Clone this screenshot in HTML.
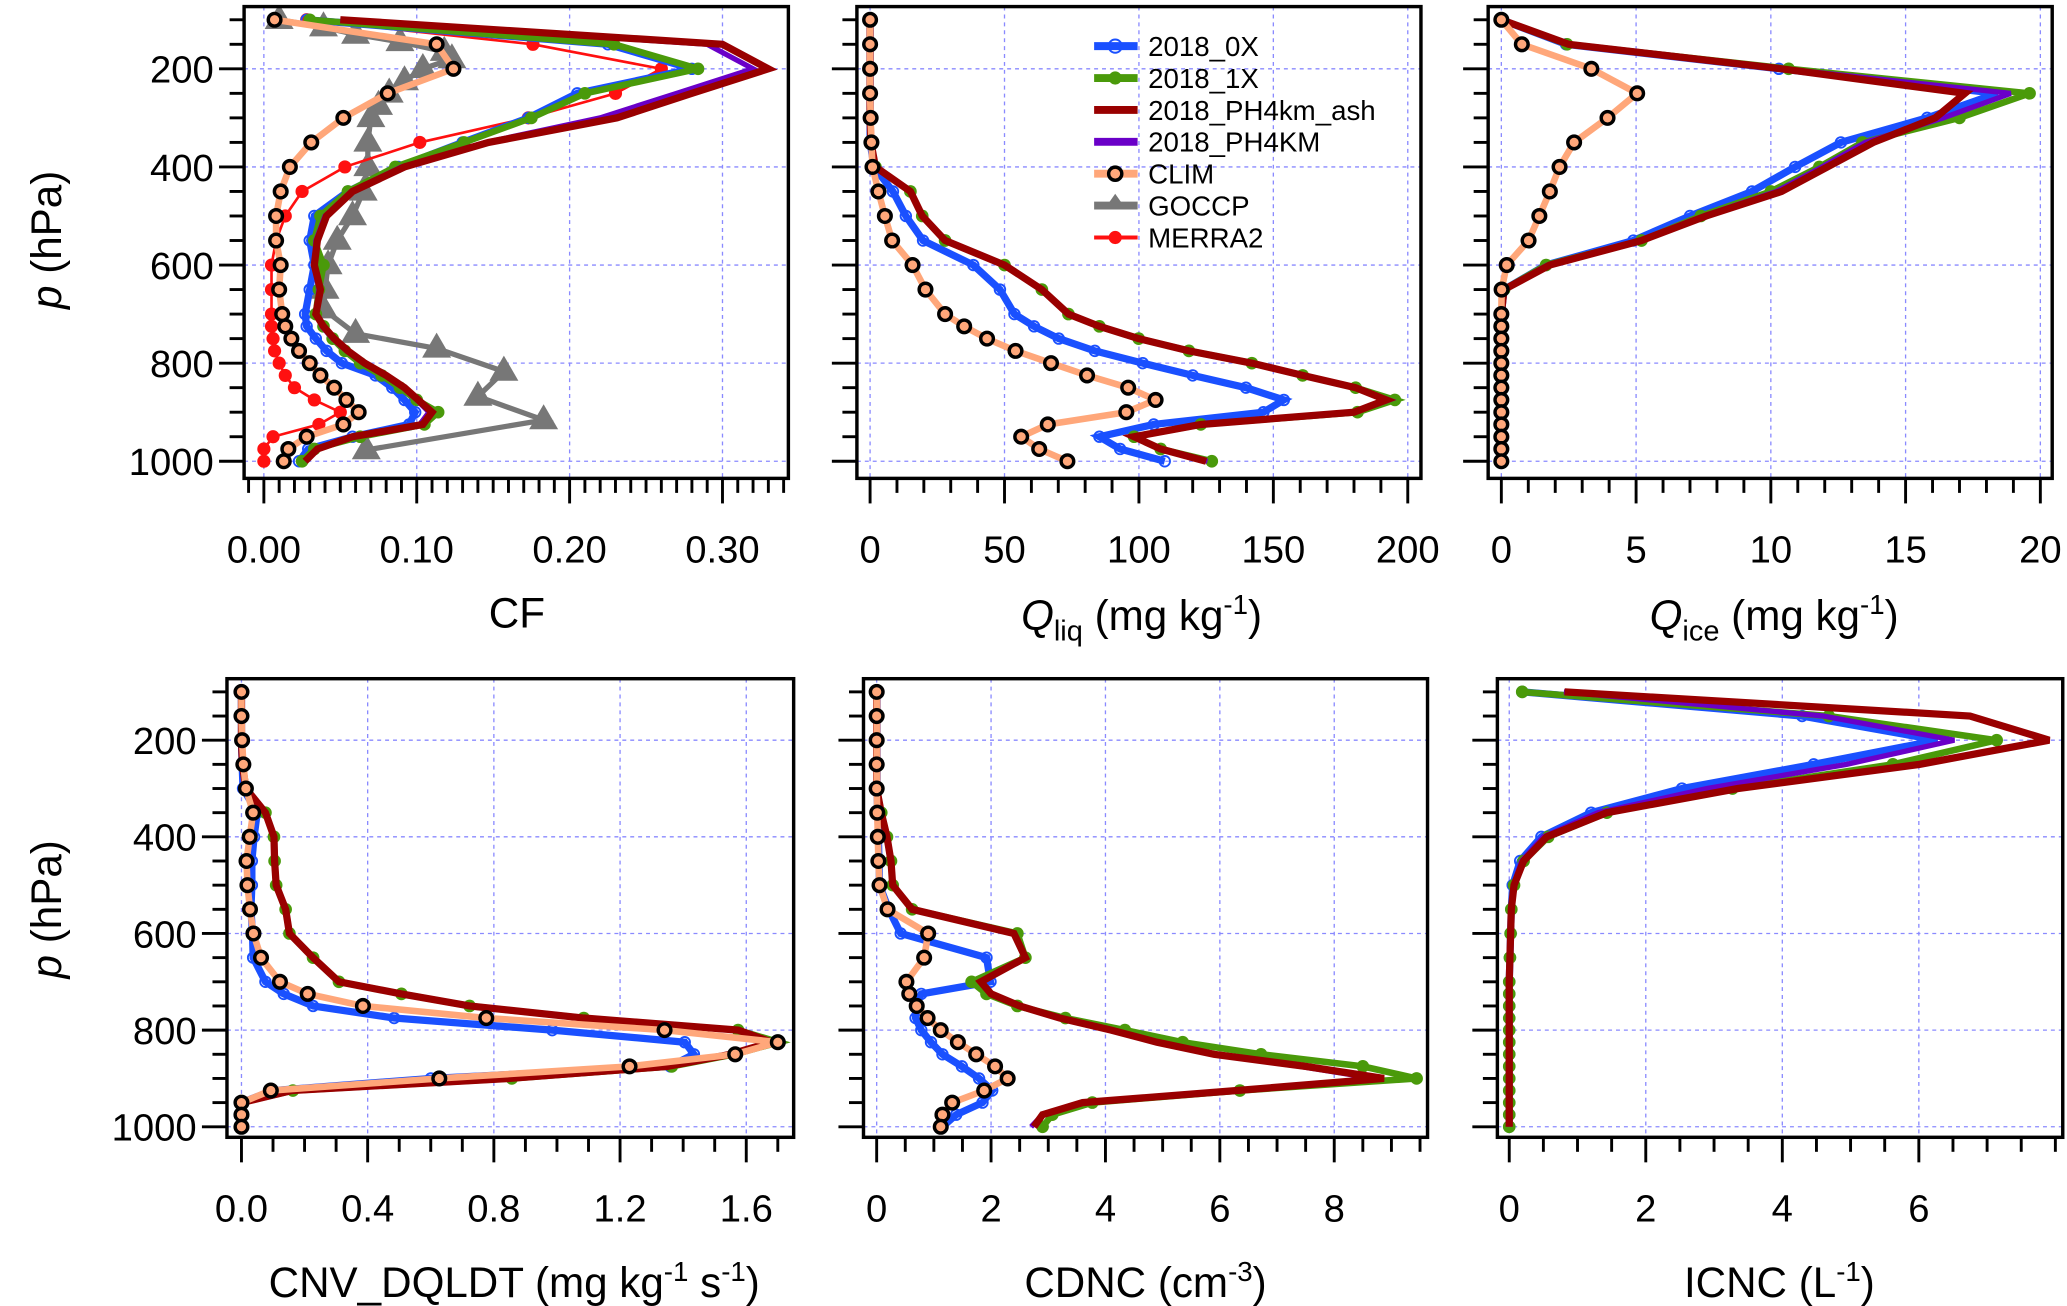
<!DOCTYPE html>
<html><head><meta charset="utf-8"><style>
html,body{margin:0;padding:0;background:#fff}
svg{display:block}
text{font-family:"Liberation Sans",Arial,sans-serif;fill:#000}
</style></head><body>
<svg id="fig" width="2067" height="1306" viewBox="0 0 1568 991" xmlns="http://www.w3.org/2000/svg"></svg>
<script>
// ---- data ----
const levels = [100,150,200,250,300,350,400,450,500,550,600,650,700,725,750,775,800,825,850,875,900,925,950,975,1000];
// Panel 1: CF
const cf0X   = [0.028,0.225,0.28,0.205,0.173,0.13,0.088,0.055,0.033,0.03,0.033,0.03,0.027,0.028,0.034,0.041,0.051,0.073,0.084,0.092,0.099,0.095,0.058,0.029,0.023];
const cf1X   = [0.03,0.229,0.284,0.21,0.175,0.131,0.086,0.055,0.037,0.033,0.039,0.036,0.034,0.039,0.045,0.053,0.063,0.077,0.089,0.1,0.114,0.105,0.063,0.033,0.025];
const cfAsh  = [0.05,0.30,0.33,0.28,0.231,0.147,0.092,0.058,0.041,0.035,0.033,0.037,0.034,0.039,0.046,0.055,0.066,0.08,0.092,0.101,0.11,0.104,0.058,0.035,0.027];
const cfPH   = [0.05,0.29,0.32,0.27,0.22,0.145,0.09,0.057,0.04,0.034,0.033,0.036,0.034,0.038,0.045,0.054,0.065,0.079,0.091,0.1,0.108,0.102,0.058,0.035,0.027];
const cfClim = [0.007,0.113,0.124,0.081,0.052,0.031,0.017,0.011,0.008,0.008,0.011,0.010,0.012,0.014,0.018,0.023,0.030,0.037,0.046,0.054,0.062,0.052,0.028,0.016,0.013];
const cfMerra= [0.028,0.176,0.26,0.23,0.173,0.102,0.053,0.025,0.014,0.008,0.005,0.005,0.005,0.005,0.006,0.007,0.01,0.014,0.02,0.033,0.05,0.036,0.006,0.0,0.0];
const goccpP = [100,115,130,145,165,180,200,225,250,275,300,350,400,450,500,550,600,650,690,740,770,817,868,916,977];
const goccpCF= [0.010,0.039,0.060,0.089,0.118,0.123,0.104,0.092,0.082,0.075,0.070,0.068,0.068,0.065,0.058,0.048,0.042,0.040,0.039,0.060,0.113,0.157,0.140,0.183,0.067];
// Panel 2: Qliq
const ql0X   = [0,0,0,0,0,0,1.5,8.5,13.3,19.7,38.4,48.3,53.7,61,70.2,83.6,101.4,120,139.8,153.9,146.3,105.5,85.3,93,109.6];
const ql1X   = [0,0,0,0,0,0.3,2,15,19.4,27.9,50,63.9,73.8,85.3,99.9,118.6,142,160.9,180.6,195.2,181.3,123,98.2,108.1,127.1];
const qlAsh  = [0,0,0,0,0,0.3,2,15,19.4,27.9,50,63.9,73.8,85.3,99.9,118.6,142,160.9,180.6,192,180,123,98.2,108.1,125];
const qlPH   = [0,0,0,0,0,0.3,2,15,19.4,27.9,50,63.9,73.8,85.3,99.9,118.6,142,160.9,180.6,193,180.5,123,98.2,108.1,125.5];
const qlClim = [0,0,0,0,0.2,0.5,0.9,3.1,5.5,8.2,15.8,20.6,27.9,35,43.5,54.1,67.3,80.7,96,106.2,95.3,66.1,56.2,62.9,73.4];
// Panel 3: Qice
const qi0X   = [0,2.4,10.3,18.4,15.8,12.6,10.9,9.3,7.0,4.9,1.66,0.1,0,0,0,0,0,0,0,0,0,0,0,0,0];
const qi1X   = [0,2.44,10.66,19.6,17.0,13.4,11.8,10.0,7.4,5.2,1.66,0.1,0,0,0,0,0,0,0,0,0,0,0,0,0];
const qiAsh  = [0,2.5,10.4,17.2,16.1,13.8,12.1,10.4,7.6,5.2,1.8,0.1,0,0,0,0,0,0,0,0,0,0,0,0,0];
const qiPH   = [0,2.45,10.5,18.9,16.4,13.5,11.9,10.2,7.5,5.1,1.7,0.1,0,0,0,0,0,0,0,0,0,0,0,0,0];
const qiClim = [0,0.76,3.34,5.04,3.94,2.7,2.16,1.8,1.41,1.01,0.2,0.01,0,0,0,0,0,0,0,0,0,0,0,0,0];
// Panel 4: CNV_DQLDT
const cn0X   = [0,0,0,0.002,0.005,0.05,0.04,0.033,0.033,0.03,0.035,0.037,0.076,0.134,0.227,0.484,0.985,1.405,1.434,1.359,0.6,0.1,0,0,0];
const cn1X   = [0,0,0,0.003,0.014,0.076,0.103,0.105,0.11,0.14,0.152,0.227,0.309,0.507,0.723,1.085,1.574,1.703,1.563,1.364,0.857,0.163,0,0,0];
const cnAsh  = [0,0,0,0.003,0.014,0.076,0.103,0.105,0.11,0.14,0.152,0.227,0.309,0.507,0.723,1.085,1.574,1.68,1.55,1.35,0.85,0.16,0,0,0];
const cnPH   = [0,0,0,0.003,0.014,0.076,0.103,0.105,0.11,0.14,0.152,0.227,0.309,0.507,0.723,1.085,1.574,1.69,1.55,1.35,0.85,0.16,0,0,0];
const cnClim = [0,0,0.002,0.006,0.014,0.037,0.026,0.016,0.019,0.027,0.038,0.062,0.122,0.21,0.385,0.776,1.341,1.7,1.565,1.23,0.627,0.093,0,0,0];
// Panel 5: CDNC
const cd0X   = [0,0,0,0,0,0.02,0.03,0.04,0.05,0.21,0.42,1.92,1.99,0.78,0.68,0.68,0.78,0.95,1.15,1.49,1.79,2.02,1.85,1.39,1.15];
const cd1X   = [0,0,0,0,0,0.08,0.18,0.25,0.28,0.62,2.46,2.6,1.66,1.92,2.46,3.3,4.34,5.35,6.72,8.5,9.44,6.35,3.77,3.07,2.9];
const cdAsh  = [0,0,0,0,0,0.08,0.18,0.25,0.28,0.62,2.4,2.6,1.82,2.0,2.5,3.2,4.1,4.9,5.9,7.5,8.87,6.3,3.6,2.9,2.75];
const cdPH   = [0,0,0,0,0,0.08,0.18,0.25,0.28,0.62,2.4,2.6,1.82,2.0,2.5,3.2,4.1,4.9,5.85,7.4,8.7,6.3,3.6,2.9,2.7];
const cdClim = [0,0,0,0,0,0.01,0.02,0.03,0.05,0.19,0.9,0.83,0.52,0.57,0.70,0.89,1.12,1.42,1.74,2.07,2.29,1.88,1.32,1.15,1.12];
// Panel 6: ICNC
const ic0X   = [0.19,4.29,6.27,4.46,2.53,1.2,0.47,0.16,0.05,0.03,0.02,0.01,0,0,0,0,0,0,0,0,0,0,0,0,0];
const ic1X   = [0.19,4.68,7.14,5.62,3.27,1.43,0.57,0.21,0.07,0.03,0.02,0.01,0,0,0,0,0,0,0,0,0,0,0,0,0];
const icAsh  = [0.81,6.75,7.91,6.01,3.35,1.43,0.55,0.21,0.07,0.03,0.02,0.01,0,0,0,0,0,0,0,0,0,0,0,0,0];
const icPH   = [0.8,4.6,6.52,4.94,2.9,1.3,0.5,0.18,0.06,0.03,0.02,0.01,0,0,0,0,0,0,0,0,0,0,0,0,0];
const legendLabels = ["2018_0X","2018_1X","2018_PH4km_ash","2018_PH4KM","CLIM","GOCCP","MERRA2"];

// ---- drawing ----
const NS="http://www.w3.org/2000/svg";
const svg=document.getElementById('fig');
function mk(tag,attrs,parent){const e=document.createElementNS(NS,tag);for(const k in attrs)e.setAttribute(k,attrs[k]);(parent||svg).appendChild(e);return e;}
const C={blue:"#1a50ff",green:"#4a9a0a",ash:"#990000",ph:"#6a00c8",clim:"#ffa77a",goccp:"#777777",merra:"#ff1010",grid:"#8a8aff"};

function makePanel(o){
  const g=mk('g',{});
  
  
  const X=v=>o.x0+v*o.kx;
  const Y=p=>o.yA+(p-100)*(o.yB-o.yA)/900;
  const grid=mk('g',{},g);
  
  
  o.major.forEach(v=>{mk('line',{x1:X(v),x2:X(v),y1:o.top,y2:o.bot,stroke:C.grid,'stroke-width':1,'stroke-dasharray':'3,3'},grid);});
  [200,400,600,800,1000].forEach(p=>{mk('line',{x1:o.left,x2:o.right,y1:Y(p),y2:Y(p),stroke:C.grid,'stroke-width':1,'stroke-dasharray':'3,3'},grid);});
  const yt=mk('g',{},g);
  
  
  for(let p=100;p<=1000;p+=50){const maj=(p%200===0);
    mk('line',{x1:o.left-(maj?19:11),x2:o.left,y1:Y(p),y2:Y(p),stroke:'#000','stroke-width':2.2},yt);
    if(maj&&o.ylabels){const t=mk('text',{x:o.left-23,y:Y(p)+10.5,'font-size':29,'text-anchor':'end'},yt);t.textContent=String(p);}
  }
  const xt=mk('g',{},g);
  
  
  const nMinor=Math.round((o.xmax-o.xmin)/o.minor);
  for(let i=0;i<=nMinor;i++){const v=o.xmin+i*o.minor;const px=X(v);if(px<o.left-0.5||px>o.right+0.5)continue;
    const maj=o.major.some(m=>Math.abs(m-v)<1e-6);
    mk('line',{x1:px,x2:px,y1:o.bot,y2:o.bot+(maj?19:11),stroke:'#000','stroke-width':2.2},xt);}
  o.major.forEach((v,i)=>{const t=mk('text',{x:X(v),y:o.bot+64,'font-size':29,'text-anchor':'middle'},xt);t.textContent=o.tickLabels[i];});
  const clip='clip-'+o.name;
  const cp=mk('clipPath',{id:clip},g);mk('rect',{x:o.left,y:o.top,width:o.right-o.left,height:o.bot-o.top},cp);
  const sg=mk('g',{'clip-path':'url(#'+clip+')'},g);
  o.series.forEach(s=>{
    const ps=s.p||levels;
    const sgr=mk('g',{},sg);
    
    
    const pts=s.v.map((v,i)=>X(v).toFixed(2)+','+Y(ps[i]).toFixed(2)).join(' ');
    mk('polyline',{points:pts,fill:'none',stroke:s.color,'stroke-width':s.w,'stroke-linejoin':'miter'},sgr);
    if(s.marker){s.v.forEach((v,i)=>{const cx=X(v),cy=Y(ps[i]);
      let m;
      if(s.marker==='open')m=mk('circle',{cx,cy,r:4,fill:'none',stroke:s.color,'stroke-width':1.4},sgr);
      else if(s.marker==='dot')m=mk('circle',{cx,cy,r:s.r||5,fill:s.color},sgr);
      else if(s.marker==='clim')m=mk('circle',{cx,cy,r:4.8,fill:C.clim,stroke:'#000','stroke-width':2.6},sgr);
      else if(s.marker==='tri')m=mk('polygon',{points:`${cx},${cy-12} ${cx-11},${cy+7} ${cx+11},${cy+7}`,fill:s.color},sgr);
      
      
    });}
  });
  const fr=mk('rect',{x:o.left,y:o.top,width:o.right-o.left,height:o.bot-o.top,fill:'none',stroke:'#000','stroke-width':2.6},g);
  
  
  return g;
}
const models=(a,b,c,d)=>[
  {key:'2018-0x',v:a,color:C.blue,w:5.5,marker:'open'},
  {key:'2018-1x',v:b,color:C.green,w:5,marker:'dot',r:4.8},
  {key:'2018-ph4km',v:d,color:C.ph,w:4},
  {key:'2018-ph4kmash',v:c,color:C.ash,w:5.5}];
const topRow={top:5,bot:363,yA:15,yB:350};
const bottomRow={top:515,bot:863,yA:525,yB:855};

makePanel(Object.assign({name:'panel-cf',left:185,right:598,x0:200,kx:1160,xmin:-0.01,xmax:0.34,minor:0.01,major:[0,0.1,0.2,0.3],tickLabels:['0.00','0.10','0.20','0.30'],ylabels:true,
  series:[{key:'goccp',p:goccpP,v:goccpCF,color:C.goccp,w:4,marker:'tri'},{key:'merra2',v:cfMerra,color:C.merra,w:2,marker:'dot',r:5}]
    .concat(models(cf0X,cf1X,cfAsh,cfPH)).concat([{key:'clim',v:cfClim,color:C.clim,w:5,marker:'clim'}])},topRow));
makePanel(Object.assign({name:'panel-qliq',left:650,right:1078,x0:660,kx:2.04,xmin:0,xmax:205,minor:10,major:[0,50,100,150,200],tickLabels:['0','50','100','150','200'],
  series:models(ql0X,ql1X,qlAsh,qlPH).concat([{key:'clim',v:qlClim,color:C.clim,w:5,marker:'clim'}])},topRow));
makePanel(Object.assign({name:'panel-qice',left:1129,right:1557,x0:1139,kx:20.45,xmin:0,xmax:20,minor:1,major:[0,5,10,15,20],tickLabels:['0','5','10','15','20'],
  series:models(qi0X,qi1X,qiAsh,qiPH).concat([{key:'clim',v:qiClim,color:C.clim,w:5,marker:'clim'}])},topRow));
makePanel(Object.assign({name:'panel-cnv-dqldt',left:172,right:602,x0:183,kx:239.4,xmin:0,xmax:1.7,minor:0.1,major:[0,0.4,0.8,1.2,1.6],tickLabels:['0.0','0.4','0.8','1.2','1.6'],ylabels:true,
  series:models(cn0X,cn1X,cnAsh,cnPH).concat([{key:'clim',v:cnClim,color:C.clim,w:5,marker:'clim'}])},bottomRow));
makePanel(Object.assign({name:'panel-cdnc',left:655,right:1083,x0:665,kx:43.4,xmin:0,xmax:9.5,minor:0.5,major:[0,2,4,6,8],tickLabels:['0','2','4','6','8'],
  series:models(cd0X,cd1X,cdAsh,cdPH).concat([{key:'clim',v:cdClim,color:C.clim,w:5,marker:'clim'}])},bottomRow));
makePanel(Object.assign({name:'panel-icnc',left:1136,right:1565,x0:1145,kx:51.8,xmin:0,xmax:8,minor:0.5,major:[0,2,4,6],tickLabels:['0','2','4','6'],
  series:models(ic0X,ic1X,icAsh,icPH)},bottomRow));

// legend
const lg=mk('g',{});


const lstyle=[{c:C.blue,m:'open'},{c:C.green,m:'dot'},{c:C.ash},{c:C.ph},{c:C.clim,m:'clim'},{c:C.goccp,m:'tri'},{c:C.merra,m:'dot',w:3}];
legendLabels.forEach((lab,i)=>{
  const y=35+i*24.2;
  const e=mk('g',{},lg);
  
  
  const st=lstyle[i];
  mk('line',{x1:830,x2:863,y1:y,y2:y,stroke:st.c,'stroke-width':st.w||6},e);
  if(st.m==='open')mk('circle',{cx:846,cy:y,r:5,fill:'none',stroke:st.c,'stroke-width':1.5},e);
  if(st.m==='dot')mk('circle',{cx:846,cy:y,r:5,fill:st.c},e);
  if(st.m==='clim')mk('circle',{cx:846,cy:y,r:5,fill:C.clim,stroke:'#000','stroke-width':2.6},e);
  if(st.m==='tri')mk('polygon',{points:`846,${y-9} 839,${y+1} 853,${y+1}`,fill:st.c},e);
  const t=mk('text',{x:871,y:y+7.5,'font-size':21},e);t.textContent=lab;
});
</script>
<svg style="position:absolute;left:0;top:0" width="2067" height="1306" viewBox="0 0 1568 991" xmlns="http://www.w3.org/2000/svg">
  <g font-family="Liberation Sans, Arial, sans-serif" font-size="32">
    <text transform="translate(46,182) rotate(-90)" text-anchor="middle"><tspan font-style="italic">p</tspan> (hPa)</text>
    <text transform="translate(46,690) rotate(-90)" text-anchor="middle"><tspan font-style="italic">p</tspan> (hPa)</text>
    <text x="392" y="476" text-anchor="middle">CF</text>
    <text x="866" y="478" text-anchor="middle"><tspan font-style="italic">Q</tspan><tspan font-size="22" dy="8">liq</tspan><tspan dy="-8"> (mg kg</tspan><tspan font-size="21" dy="-12">-1</tspan><tspan dy="12">)</tspan></text>
    <text x="1346" y="478" text-anchor="middle"><tspan font-style="italic">Q</tspan><tspan font-size="22" dy="8">ice</tspan><tspan dy="-8"> (mg kg</tspan><tspan font-size="21" dy="-12">-1</tspan><tspan dy="12">)</tspan></text>
    <text x="390" y="984" text-anchor="middle">CNV_DQLDT (mg kg<tspan font-size="21" dy="-12">-1</tspan><tspan dy="12"> s</tspan><tspan font-size="21" dy="-12">-1</tspan><tspan dy="12">)</tspan></text>
    <text x="869" y="984" text-anchor="middle">CDNC (cm<tspan font-size="21" dy="-12">-3</tspan><tspan dy="12">)</tspan></text>
    <text x="1350" y="984" text-anchor="middle">ICNC (L<tspan font-size="21" dy="-12">-1</tspan><tspan dy="12">)</tspan></text>
  </g>
</svg>
</body></html>
